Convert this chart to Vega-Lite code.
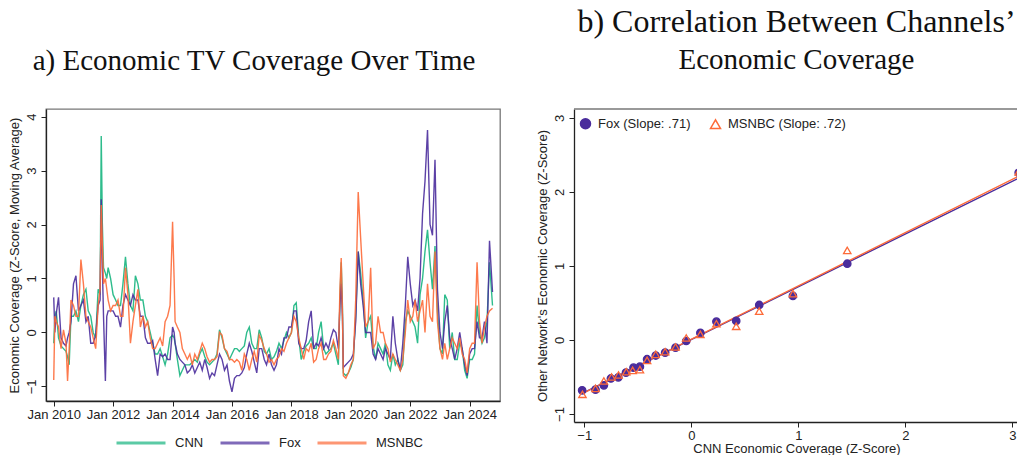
{
  "$schema": "https://vega.github.io/schema/vega-lite/v6.json",
  "padding": {"left": 7, "top": 6, "right": 0, "bottom": 0},
  "background": "white",
  "spacing": 35,
  "config": {
    "font": "Liberation Sans",
    "view": {"stroke": "#777", "strokeWidth": 1.3},
    "axis": {"labelFont": "Liberation Sans", "labelFontSize": 13, "labelColor": "#222", "titleFont": "Liberation Sans", "titleFontSize": 13, "titleFontWeight": "normal", "titleColor": "#222", "titleLimit": 1000, "domainColor": "#222", "tickColor": "#222", "tickSize": 5, "grid": false, "domainWidth": 1.3, "labelPadding": 3, "titlePadding": 4},
    "title": {"font": "Liberation Serif", "fontSize": 32, "fontWeight": "normal", "color": "#111", "anchor": "middle", "subtitleFont": "Liberation Serif", "subtitleFontSize": 29, "subtitleColor": "#111", "subtitlePadding": 7},
    "legend": {"labelFont": "Liberation Sans", "labelFontSize": 13, "labelColor": "#222"}
  },
  "datasets": {
    "ts": [
      {"date":"2010-01-01","CNN":-0.2,"Fox":0.65,"MSNBC":-0.88},
      {"date":"2010-01-15","CNN":0.3,"Fox":0.0,"MSNBC":0.3},
      {"date":"2010-02-01","CNN":0.4,"Fox":0.35,"MSNBC":0.2},
      {"date":"2010-03-01","CNN":-0.1,"Fox":0.65,"MSNBC":0.1},
      {"date":"2010-04-01","CNN":-0.25,"Fox":-0.1,"MSNBC":-0.3},
      {"date":"2010-05-01","CNN":-0.3,"Fox":-0.2,"MSNBC":0.05},
      {"date":"2010-06-01","CNN":-0.35,"Fox":-0.25,"MSNBC":-0.2},
      {"date":"2010-06-20","CNN":-0.45,"Fox":-0.1,"MSNBC":-0.9},
      {"date":"2010-07-10","CNN":-0.6,"Fox":0.0,"MSNBC":-0.3},
      {"date":"2010-08-01","CNN":0.3,"Fox":0.2,"MSNBC":0.6},
      {"date":"2010-09-01","CNN":0.3,"Fox":0.9,"MSNBC":0.5},
      {"date":"2010-10-01","CNN":0.4,"Fox":1.05,"MSNBC":0.3},
      {"date":"2010-11-01","CNN":0.2,"Fox":0.4,"MSNBC":0.3},
      {"date":"2010-12-01","CNN":0.5,"Fox":0.5,"MSNBC":1.35},
      {"date":"2011-01-01","CNN":0.7,"Fox":0.6,"MSNBC":0.9},
      {"date":"2011-02-01","CNN":0.8,"Fox":0.2,"MSNBC":0.3},
      {"date":"2011-03-01","CNN":0.4,"Fox":0.3,"MSNBC":0.2},
      {"date":"2011-04-01","CNN":0.3,"Fox":-0.2,"MSNBC":0.1},
      {"date":"2011-05-01","CNN":0.0,"Fox":-0.2,"MSNBC":-0.1},
      {"date":"2011-06-01","CNN":-0.1,"Fox":-0.05,"MSNBC":-0.3},
      {"date":"2011-07-01","CNN":0.8,"Fox":0.5,"MSNBC":0.5},
      {"date":"2011-07-25","CNN":0.7,"Fox":0.6,"MSNBC":0.8},
      {"date":"2011-08-08","CNN":3.64,"Fox":2.47,"MSNBC":2.36},
      {"date":"2011-08-22","CNN":2.0,"Fox":1.2,"MSNBC":1.6},
      {"date":"2011-09-05","CNN":1.2,"Fox":0.3,"MSNBC":0.9},
      {"date":"2011-09-28","CNN":1.1,"Fox":-0.9,"MSNBC":1.0},
      {"date":"2011-10-15","CNN":1.0,"Fox":0.3,"MSNBC":0.8},
      {"date":"2011-11-01","CNN":1.2,"Fox":0.4,"MSNBC":0.6},
      {"date":"2011-12-01","CNN":1.0,"Fox":0.4,"MSNBC":0.4},
      {"date":"2012-01-01","CNN":0.7,"Fox":0.4,"MSNBC":0.5},
      {"date":"2012-02-01","CNN":0.6,"Fox":0.3,"MSNBC":0.5},
      {"date":"2012-03-01","CNN":0.5,"Fox":0.3,"MSNBC":0.6},
      {"date":"2012-04-01","CNN":0.5,"Fox":0.1,"MSNBC":0.3},
      {"date":"2012-05-01","CNN":0.9,"Fox":0.5,"MSNBC":0.3},
      {"date":"2012-06-01","CNN":1.4,"Fox":0.7,"MSNBC":1.2},
      {"date":"2012-07-01","CNN":0.9,"Fox":0.6,"MSNBC":0.7},
      {"date":"2012-08-01","CNN":0.5,"Fox":0.5,"MSNBC":-0.2},
      {"date":"2012-09-01","CNN":0.4,"Fox":0.7,"MSNBC":0.2},
      {"date":"2012-10-01","CNN":1.05,"Fox":0.6,"MSNBC":0.5},
      {"date":"2012-11-01","CNN":0.9,"Fox":0.6,"MSNBC":0.8},
      {"date":"2012-12-01","CNN":0.6,"Fox":0.3,"MSNBC":0.1},
      {"date":"2013-01-01","CNN":0.6,"Fox":0.3,"MSNBC":0.3},
      {"date":"2013-02-01","CNN":0.3,"Fox":-0.1,"MSNBC":0.1},
      {"date":"2013-03-01","CNN":0.2,"Fox":-0.2,"MSNBC":0.2},
      {"date":"2013-04-01","CNN":0.0,"Fox":-0.2,"MSNBC":-0.1},
      {"date":"2013-05-01","CNN":-0.2,"Fox":-0.15,"MSNBC":-0.3},
      {"date":"2013-06-01","CNN":-0.4,"Fox":-0.5,"MSNBC":-0.3},
      {"date":"2013-07-01","CNN":-0.4,"Fox":-0.8,"MSNBC":-0.2},
      {"date":"2013-08-01","CNN":-0.3,"Fox":-0.4,"MSNBC":-0.1},
      {"date":"2013-09-01","CNN":-0.45,"Fox":-0.45,"MSNBC":-0.25},
      {"date":"2013-10-01","CNN":-0.6,"Fox":-0.4,"MSNBC":0.2},
      {"date":"2013-11-01","CNN":-0.4,"Fox":-0.5,"MSNBC":0.3},
      {"date":"2013-12-01","CNN":-0.1,"Fox":-0.5,"MSNBC":0.5},
      {"date":"2014-01-01","CNN":-0.05,"Fox":0.1,"MSNBC":2.05},
      {"date":"2014-01-20","CNN":-0.1,"Fox":0.0,"MSNBC":1.0},
      {"date":"2014-02-01","CNN":-0.2,"Fox":-0.2,"MSNBC":0.2},
      {"date":"2014-03-01","CNN":-0.5,"Fox":-0.4,"MSNBC":0.1},
      {"date":"2014-04-01","CNN":-0.8,"Fox":-0.5,"MSNBC":0.0},
      {"date":"2014-05-01","CNN":-0.7,"Fox":-0.55,"MSNBC":-0.3},
      {"date":"2014-06-01","CNN":-0.6,"Fox":-0.6,"MSNBC":-0.4},
      {"date":"2014-07-01","CNN":-0.6,"Fox":-0.75,"MSNBC":-0.5},
      {"date":"2014-08-01","CNN":-0.6,"Fox":-0.7,"MSNBC":-0.4},
      {"date":"2014-09-01","CNN":-0.55,"Fox":-0.6,"MSNBC":-0.6},
      {"date":"2014-10-01","CNN":-0.5,"Fox":-0.75,"MSNBC":-0.4},
      {"date":"2014-11-01","CNN":-0.55,"Fox":-0.65,"MSNBC":-0.5},
      {"date":"2014-12-01","CNN":-0.4,"Fox":-0.55,"MSNBC":-0.35},
      {"date":"2015-01-01","CNN":-0.3,"Fox":-0.7,"MSNBC":-0.2},
      {"date":"2015-02-01","CNN":-0.45,"Fox":-0.5,"MSNBC":-0.3},
      {"date":"2015-03-01","CNN":-0.55,"Fox":-0.65,"MSNBC":-0.45},
      {"date":"2015-04-01","CNN":-0.6,"Fox":-0.85,"MSNBC":-0.55},
      {"date":"2015-05-01","CNN":-0.55,"Fox":-0.75,"MSNBC":-0.5},
      {"date":"2015-06-01","CNN":-0.5,"Fox":-0.8,"MSNBC":-0.5},
      {"date":"2015-07-01","CNN":-0.4,"Fox":-0.6,"MSNBC":-0.45},
      {"date":"2015-08-01","CNN":0.05,"Fox":-0.4,"MSNBC":0.0},
      {"date":"2015-09-01","CNN":-0.1,"Fox":-0.5,"MSNBC":-0.05},
      {"date":"2015-10-01","CNN":-0.3,"Fox":-0.7,"MSNBC":-0.3},
      {"date":"2015-11-01","CNN":-0.4,"Fox":-0.6,"MSNBC":-0.35},
      {"date":"2015-12-01","CNN":-0.5,"Fox":-0.9,"MSNBC":-0.5},
      {"date":"2016-01-01","CNN":-0.4,"Fox":-1.1,"MSNBC":-0.5},
      {"date":"2016-02-01","CNN":-0.3,"Fox":-0.85,"MSNBC":-0.55},
      {"date":"2016-03-01","CNN":-0.3,"Fox":-0.8,"MSNBC":-0.5},
      {"date":"2016-04-01","CNN":-0.35,"Fox":-0.8,"MSNBC":-0.55},
      {"date":"2016-05-01","CNN":-0.3,"Fox":-0.75,"MSNBC":-0.7},
      {"date":"2016-06-01","CNN":-0.25,"Fox":-0.65,"MSNBC":-0.4},
      {"date":"2016-07-01","CNN":0.0,"Fox":-0.4,"MSNBC":-0.5},
      {"date":"2016-08-01","CNN":0.1,"Fox":-0.2,"MSNBC":-0.7},
      {"date":"2016-09-01","CNN":-0.2,"Fox":-0.35,"MSNBC":-0.5},
      {"date":"2016-10-01","CNN":-0.3,"Fox":-0.55,"MSNBC":-0.35},
      {"date":"2016-11-01","CNN":-0.3,"Fox":-0.75,"MSNBC":-0.55},
      {"date":"2016-12-01","CNN":0.05,"Fox":-0.3,"MSNBC":-0.05},
      {"date":"2017-01-01","CNN":-0.1,"Fox":-0.3,"MSNBC":-0.15},
      {"date":"2017-02-01","CNN":-0.35,"Fox":-0.5,"MSNBC":-0.3},
      {"date":"2017-03-01","CNN":-0.4,"Fox":-0.6,"MSNBC":-0.4},
      {"date":"2017-04-01","CNN":-0.3,"Fox":-0.4,"MSNBC":-0.55},
      {"date":"2017-05-01","CNN":-0.5,"Fox":-0.6,"MSNBC":-0.5},
      {"date":"2017-06-01","CNN":-0.45,"Fox":-0.7,"MSNBC":-0.6},
      {"date":"2017-07-01","CNN":-0.35,"Fox":-0.6,"MSNBC":-0.5},
      {"date":"2017-08-01","CNN":-0.2,"Fox":-0.3,"MSNBC":-0.45},
      {"date":"2017-09-01","CNN":-0.3,"Fox":-0.4,"MSNBC":-0.3},
      {"date":"2017-10-01","CNN":-0.15,"Fox":-0.1,"MSNBC":-0.35},
      {"date":"2017-11-01","CNN":0.0,"Fox":-0.1,"MSNBC":-0.2},
      {"date":"2017-12-01","CNN":-0.1,"Fox":0.1,"MSNBC":-0.1},
      {"date":"2018-01-01","CNN":0.0,"Fox":0.1,"MSNBC":0.0},
      {"date":"2018-02-01","CNN":0.5,"Fox":0.4,"MSNBC":0.3},
      {"date":"2018-03-01","CNN":0.55,"Fox":0.4,"MSNBC":0.2},
      {"date":"2018-04-01","CNN":-0.1,"Fox":-0.2,"MSNBC":-0.1},
      {"date":"2018-05-01","CNN":-0.5,"Fox":-0.3,"MSNBC":-0.3},
      {"date":"2018-06-01","CNN":-0.35,"Fox":-0.3,"MSNBC":-0.5},
      {"date":"2018-07-01","CNN":-0.25,"Fox":-0.15,"MSNBC":-0.3},
      {"date":"2018-08-01","CNN":-0.2,"Fox":0.2,"MSNBC":-0.35},
      {"date":"2018-09-01","CNN":-0.1,"Fox":0.4,"MSNBC":-0.2},
      {"date":"2018-10-01","CNN":-0.3,"Fox":-0.3,"MSNBC":-0.55},
      {"date":"2018-11-01","CNN":-0.3,"Fox":-0.2,"MSNBC":-0.5},
      {"date":"2018-12-01","CNN":0.0,"Fox":-0.25,"MSNBC":-0.3},
      {"date":"2019-01-01","CNN":0.2,"Fox":-0.1,"MSNBC":-0.2},
      {"date":"2019-02-01","CNN":-0.3,"Fox":-0.3,"MSNBC":-0.5},
      {"date":"2019-03-01","CNN":-0.4,"Fox":-0.2,"MSNBC":-0.5},
      {"date":"2019-04-01","CNN":-0.35,"Fox":-0.3,"MSNBC":-0.4},
      {"date":"2019-05-01","CNN":-0.3,"Fox":-0.1,"MSNBC":-0.35},
      {"date":"2019-06-01","CNN":-0.2,"Fox":0.05,"MSNBC":-0.15},
      {"date":"2019-07-01","CNN":-0.4,"Fox":0.0,"MSNBC":-0.3},
      {"date":"2019-08-01","CNN":-0.6,"Fox":-0.3,"MSNBC":-0.5},
      {"date":"2019-08-20","CNN":0.6,"Fox":0.5,"MSNBC":0.8},
      {"date":"2019-09-05","CNN":1.3,"Fox":0.9,"MSNBC":1.38},
      {"date":"2019-09-20","CNN":0.5,"Fox":0.3,"MSNBC":0.4},
      {"date":"2019-10-01","CNN":-0.75,"Fox":-0.65,"MSNBC":-0.8},
      {"date":"2019-11-01","CNN":-0.8,"Fox":-0.6,"MSNBC":-0.85},
      {"date":"2019-12-01","CNN":-0.75,"Fox":-0.55,"MSNBC":-0.75},
      {"date":"2020-01-01","CNN":-0.65,"Fox":-0.5,"MSNBC":-0.6},
      {"date":"2020-02-01","CNN":-0.5,"Fox":-0.4,"MSNBC":-0.5},
      {"date":"2020-03-01","CNN":0.3,"Fox":0.2,"MSNBC":0.6},
      {"date":"2020-04-01","CNN":1.5,"Fox":1.5,"MSNBC":2.6},
      {"date":"2020-05-01","CNN":1.1,"Fox":0.9,"MSNBC":1.75},
      {"date":"2020-06-01","CNN":0.6,"Fox":0.5,"MSNBC":0.9},
      {"date":"2020-07-01","CNN":-0.1,"Fox":0.0,"MSNBC":0.1},
      {"date":"2020-08-01","CNN":0.2,"Fox":0.0,"MSNBC":0.2},
      {"date":"2020-09-01","CNN":0.3,"Fox":0.0,"MSNBC":1.2},
      {"date":"2020-10-01","CNN":-0.25,"Fox":-0.4,"MSNBC":-0.3},
      {"date":"2020-11-01","CNN":-0.5,"Fox":-0.5,"MSNBC":-0.2},
      {"date":"2020-12-01","CNN":-0.2,"Fox":-0.3,"MSNBC":0.3},
      {"date":"2021-01-01","CNN":-0.3,"Fox":-0.4,"MSNBC":0.0},
      {"date":"2021-02-01","CNN":-0.4,"Fox":-0.5,"MSNBC":0.0},
      {"date":"2021-03-01","CNN":-0.2,"Fox":-0.3,"MSNBC":-0.2},
      {"date":"2021-04-01","CNN":-0.6,"Fox":-0.4,"MSNBC":-0.3},
      {"date":"2021-05-01","CNN":-0.7,"Fox":-0.5,"MSNBC":-0.55},
      {"date":"2021-06-01","CNN":-0.4,"Fox":0.3,"MSNBC":-0.4},
      {"date":"2021-07-01","CNN":-0.6,"Fox":-0.2,"MSNBC":-0.5},
      {"date":"2021-08-01","CNN":-0.5,"Fox":-0.5,"MSNBC":-0.6},
      {"date":"2021-09-01","CNN":-0.7,"Fox":-0.7,"MSNBC":-0.7},
      {"date":"2021-10-01","CNN":-0.6,"Fox":-0.2,"MSNBC":-0.5},
      {"date":"2021-11-01","CNN":0.2,"Fox":0.5,"MSNBC":0.0},
      {"date":"2021-12-01","CNN":0.4,"Fox":1.4,"MSNBC":0.6},
      {"date":"2022-01-01","CNN":0.3,"Fox":0.9,"MSNBC":0.2},
      {"date":"2022-02-01","CNN":0.2,"Fox":0.5,"MSNBC":0.3},
      {"date":"2022-03-01","CNN":0.1,"Fox":0.6,"MSNBC":0.6},
      {"date":"2022-04-01","CNN":-0.2,"Fox":0.4,"MSNBC":0.2},
      {"date":"2022-05-01","CNN":0.7,"Fox":1.0,"MSNBC":0.4},
      {"date":"2022-06-01","CNN":1.0,"Fox":2.2,"MSNBC":0.6},
      {"date":"2022-07-01","CNN":1.5,"Fox":2.8,"MSNBC":0.0},
      {"date":"2022-08-01","CNN":1.9,"Fox":3.75,"MSNBC":0.9},
      {"date":"2022-09-01","CNN":1.3,"Fox":2.0,"MSNBC":0.3},
      {"date":"2022-10-01","CNN":0.8,"Fox":1.8,"MSNBC":0.2},
      {"date":"2022-11-01","CNN":1.6,"Fox":3.2,"MSNBC":1.5},
      {"date":"2022-12-01","CNN":0.4,"Fox":0.8,"MSNBC":0.2},
      {"date":"2023-01-01","CNN":-0.3,"Fox":0.0,"MSNBC":-0.3},
      {"date":"2023-02-01","CNN":-0.4,"Fox":-0.3,"MSNBC":-0.5},
      {"date":"2023-03-01","CNN":0.7,"Fox":0.2,"MSNBC":-0.2},
      {"date":"2023-04-01","CNN":0.6,"Fox":0.5,"MSNBC":-0.5},
      {"date":"2023-05-01","CNN":-0.3,"Fox":-0.1,"MSNBC":-0.3},
      {"date":"2023-06-01","CNN":0.0,"Fox":-0.3,"MSNBC":-0.1},
      {"date":"2023-07-01","CNN":-0.5,"Fox":-0.5,"MSNBC":-0.2},
      {"date":"2023-08-01","CNN":-0.5,"Fox":-0.3,"MSNBC":-0.3},
      {"date":"2023-09-01","CNN":-0.2,"Fox":0.0,"MSNBC":-0.1},
      {"date":"2023-10-01","CNN":-0.3,"Fox":-0.3,"MSNBC":-0.4},
      {"date":"2023-11-01","CNN":-0.7,"Fox":-0.6,"MSNBC":-0.5},
      {"date":"2023-12-01","CNN":-0.85,"Fox":-0.8,"MSNBC":-0.75},
      {"date":"2024-01-01","CNN":-0.5,"Fox":-0.4,"MSNBC":-0.3},
      {"date":"2024-02-01","CNN":-0.5,"Fox":-0.3,"MSNBC":-0.2},
      {"date":"2024-03-01","CNN":-0.4,"Fox":-0.3,"MSNBC":-0.2},
      {"date":"2024-04-01","CNN":0.5,"Fox":0.2,"MSNBC":1.3},
      {"date":"2024-05-01","CNN":0.0,"Fox":-0.1,"MSNBC":0.2},
      {"date":"2024-06-01","CNN":-0.2,"Fox":-0.1,"MSNBC":-0.2},
      {"date":"2024-07-01","CNN":-0.1,"Fox":0.2,"MSNBC":0.1},
      {"date":"2024-08-01","CNN":0.2,"Fox":-0.2,"MSNBC":0.3},
      {"date":"2024-09-01","CNN":1.3,"Fox":1.7,"MSNBC":0.4},
      {"date":"2024-10-08","CNN":0.5,"Fox":0.75,"MSNBC":0.45}
    ],
    "bins": [
      {"x":-1.02,"y":-0.68,"g":"Fox (Slope: .71)"},
      {"x":-0.895,"y":-0.67,"g":"Fox (Slope: .71)"},
      {"x":-0.817,"y":-0.613,"g":"Fox (Slope: .71)"},
      {"x":-0.751,"y":-0.52,"g":"Fox (Slope: .71)"},
      {"x":-0.682,"y":-0.505,"g":"Fox (Slope: .71)"},
      {"x":-0.61,"y":-0.44,"g":"Fox (Slope: .71)"},
      {"x":-0.54,"y":-0.374,"g":"Fox (Slope: .71)"},
      {"x":-0.48,"y":-0.36,"g":"Fox (Slope: .71)"},
      {"x":-0.413,"y":-0.26,"g":"Fox (Slope: .71)"},
      {"x":-0.332,"y":-0.21,"g":"Fox (Slope: .71)"},
      {"x":-0.244,"y":-0.17,"g":"Fox (Slope: .71)"},
      {"x":-0.147,"y":-0.104,"g":"Fox (Slope: .71)"},
      {"x":-0.047,"y":-0.014,"g":"Fox (Slope: .71)"},
      {"x":0.085,"y":0.095,"g":"Fox (Slope: .71)"},
      {"x":0.235,"y":0.248,"g":"Fox (Slope: .71)"},
      {"x":0.42,"y":0.257,"g":"Fox (Slope: .71)"},
      {"x":0.635,"y":0.473,"g":"Fox (Slope: .71)"},
      {"x":0.95,"y":0.595,"g":"Fox (Slope: .71)"},
      {"x":1.458,"y":1.03,"g":"Fox (Slope: .71)"},
      {"x":3.06,"y":2.26,"g":"Fox (Slope: .71)"},
      {"x":-1.017,"y":-0.734,"g":"MSNBC (Slope: .72)"},
      {"x":-0.895,"y":-0.653,"g":"MSNBC (Slope: .72)"},
      {"x":-0.817,"y":-0.554,"g":"MSNBC (Slope: .72)"},
      {"x":-0.745,"y":-0.5,"g":"MSNBC (Slope: .72)"},
      {"x":-0.68,"y":-0.473,"g":"MSNBC (Slope: .72)"},
      {"x":-0.607,"y":-0.428,"g":"MSNBC (Slope: .72)"},
      {"x":-0.548,"y":-0.41,"g":"MSNBC (Slope: .72)"},
      {"x":-0.48,"y":-0.4,"g":"MSNBC (Slope: .72)"},
      {"x":-0.413,"y":-0.275,"g":"MSNBC (Slope: .72)"},
      {"x":-0.332,"y":-0.194,"g":"MSNBC (Slope: .72)"},
      {"x":-0.244,"y":-0.158,"g":"MSNBC (Slope: .72)"},
      {"x":-0.147,"y":-0.095,"g":"MSNBC (Slope: .72)"},
      {"x":-0.047,"y":0.027,"g":"MSNBC (Slope: .72)"},
      {"x":0.085,"y":0.077,"g":"MSNBC (Slope: .72)"},
      {"x":0.235,"y":0.22,"g":"MSNBC (Slope: .72)"},
      {"x":0.42,"y":0.185,"g":"MSNBC (Slope: .72)"},
      {"x":0.635,"y":0.39,"g":"MSNBC (Slope: .72)"},
      {"x":0.95,"y":0.626,"g":"MSNBC (Slope: .72)"},
      {"x":1.458,"y":1.21,"g":"MSNBC (Slope: .72)"},
      {"x":3.06,"y":2.27,"g":"MSNBC (Slope: .72)"}
    ],
    "fitFox": [{"x":-1.0,"y":-0.708},{"x":3.07,"y":2.194}],
    "fitMsnbc": [{"x":-1.0,"y":-0.71},{"x":3.07,"y":2.22}]
  },
  "hconcat": [
    {
      "width": 454,
      "height": 292,
      "title": {"text": " ", "subtitle": "a) Economic TV Coverage Over Time", "frame": "bounds", "offset": 32},
      "data": {"name": "ts"},
      "transform": [{"fold": ["CNN", "Fox", "MSNBC"], "as": ["series", "value"]}],
      "mark": {"type": "line", "strokeWidth": 1.4, "strokeOpacity": 0.9, "clip": true},
      "encoding": {
        "x": {
          "field": "date", "type": "temporal",
          "scale": {"type": "utc", "domain": [{"year": 2009, "month": 9, "date": 28, "utc": true}, {"year": 2025, "month": 1, "date": 8, "utc": true}]},
          "axis": {
            "title": null, "format": "%b %Y", "labelPadding": 2,
            "values": [
              {"year": 2010, "month": 1, "date": 1, "utc": true},
              {"year": 2012, "month": 1, "date": 1, "utc": true},
              {"year": 2014, "month": 1, "date": 1, "utc": true},
              {"year": 2016, "month": 1, "date": 1, "utc": true},
              {"year": 2018, "month": 1, "date": 1, "utc": true},
              {"year": 2020, "month": 1, "date": 1, "utc": true},
              {"year": 2022, "month": 1, "date": 1, "utc": true},
              {"year": 2024, "month": 1, "date": 1, "utc": true}
            ]
          }
        },
        "y": {
          "field": "value", "type": "quantitative",
          "scale": {"domain": [-1.27, 4.14], "nice": false, "zero": false},
          "axis": {"values": [-1, 0, 1, 2, 3, 4], "format": "d", "title": "Economic Coverage (Z-Score, Moving Average)", "labelAngle": -90, "labelAlign": "center", "labelBaseline": "bottom"}
        },
        "color": {
          "field": "series", "type": "nominal",
          "scale": {"domain": ["CNN", "Fox", "MSNBC"], "range": ["#17b57f", "#4a2c9c", "#fd6a38"]},
          "legend": {"orient": "none", "legendX": 69, "legendY": 326, "direction": "horizontal", "title": null, "symbolType": "stroke", "symbolSize": 2400, "clipHeight": 16, "symbolStrokeWidth": 3, "symbolOpacity": 0.7, "gridAlign": "none", "columnPadding": 15, "labelOffset": 8}
        }
      }
    },
    {
      "width": 445,
      "height": 313,
      "view": {"stroke": null},
      "title": {"text": "b) Correlation Between Channels’", "subtitle": "Economic Coverage", "frame": "group", "offset": 32},
      "layer": [
        {
          "data": {"values": [{}]},
          "mark": {"type": "rule", "color": "#777", "strokeWidth": 1.3},
          "encoding": {"y": {"datum": 3.12, "type": "quantitative"}}
        },
        {
          "data": {"name": "fitFox"},
          "mark": {"type": "line", "color": "#4a2c9c", "strokeWidth": 1.4},
          "encoding": {
            "x": {"field": "x", "type": "quantitative"},
            "y": {"field": "y", "type": "quantitative"}
          }
        },
        {
          "data": {"name": "fitMsnbc"},
          "mark": {"type": "line", "color": "#fd6a38", "strokeWidth": 1.4},
          "encoding": {
            "x": {"field": "x", "type": "quantitative"},
            "y": {"field": "y", "type": "quantitative"}
          }
        },
        {
          "data": {"name": "bins"},
          "mark": {"type": "point", "size": 55, "strokeWidth": 1.3, "opacity": 1},
          "encoding": {
            "x": {"field": "x", "type": "quantitative", "scale": {"domain": [-1.096, 3.063], "nice": false, "zero": false}, "axis": {"values": [-1, 0, 1, 2, 3], "format": "d", "title": "CNN Economic Coverage (Z-Score)", "labelPadding": 2, "titlePadding": 0}},
            "y": {"field": "y", "type": "quantitative", "scale": {"domain": [-1.108, 3.12], "nice": false, "zero": false}, "axis": {"values": [-1, 0, 1, 2, 3], "format": "d", "title": "Other Network's Economic Coverage (Z-Score)", "labelAngle": -90, "labelAlign": "center", "labelBaseline": "bottom"}},
            "shape": {"field": "g", "type": "nominal", "scale": {"domain": ["Fox (Slope: .71)", "MSNBC (Slope: .72)"], "range": ["circle", "triangle-up"]}, "legend": {"orient": "none", "legendX": 533, "legendY": 8, "direction": "horizontal", "title": null, "columnPadding": 16, "labelOffset": 6}},
            "fill": {"field": "g", "type": "nominal", "scale": {"domain": ["Fox (Slope: .71)", "MSNBC (Slope: .72)"], "range": ["#4a2c9c", "transparent"]}, "legend": {"orient": "none", "legendX": 533, "legendY": 8, "direction": "horizontal", "title": null, "columnPadding": 16, "labelOffset": 6}},
            "stroke": {"field": "g", "type": "nominal", "scale": {"domain": ["Fox (Slope: .71)", "MSNBC (Slope: .72)"], "range": ["#4a2c9c", "#fd6a38"]}, "legend": {"orient": "none", "legendX": 533, "legendY": 8, "direction": "horizontal", "title": null, "columnPadding": 16, "labelOffset": 6}}
          }
        }
      ]
    }
  ]
}
